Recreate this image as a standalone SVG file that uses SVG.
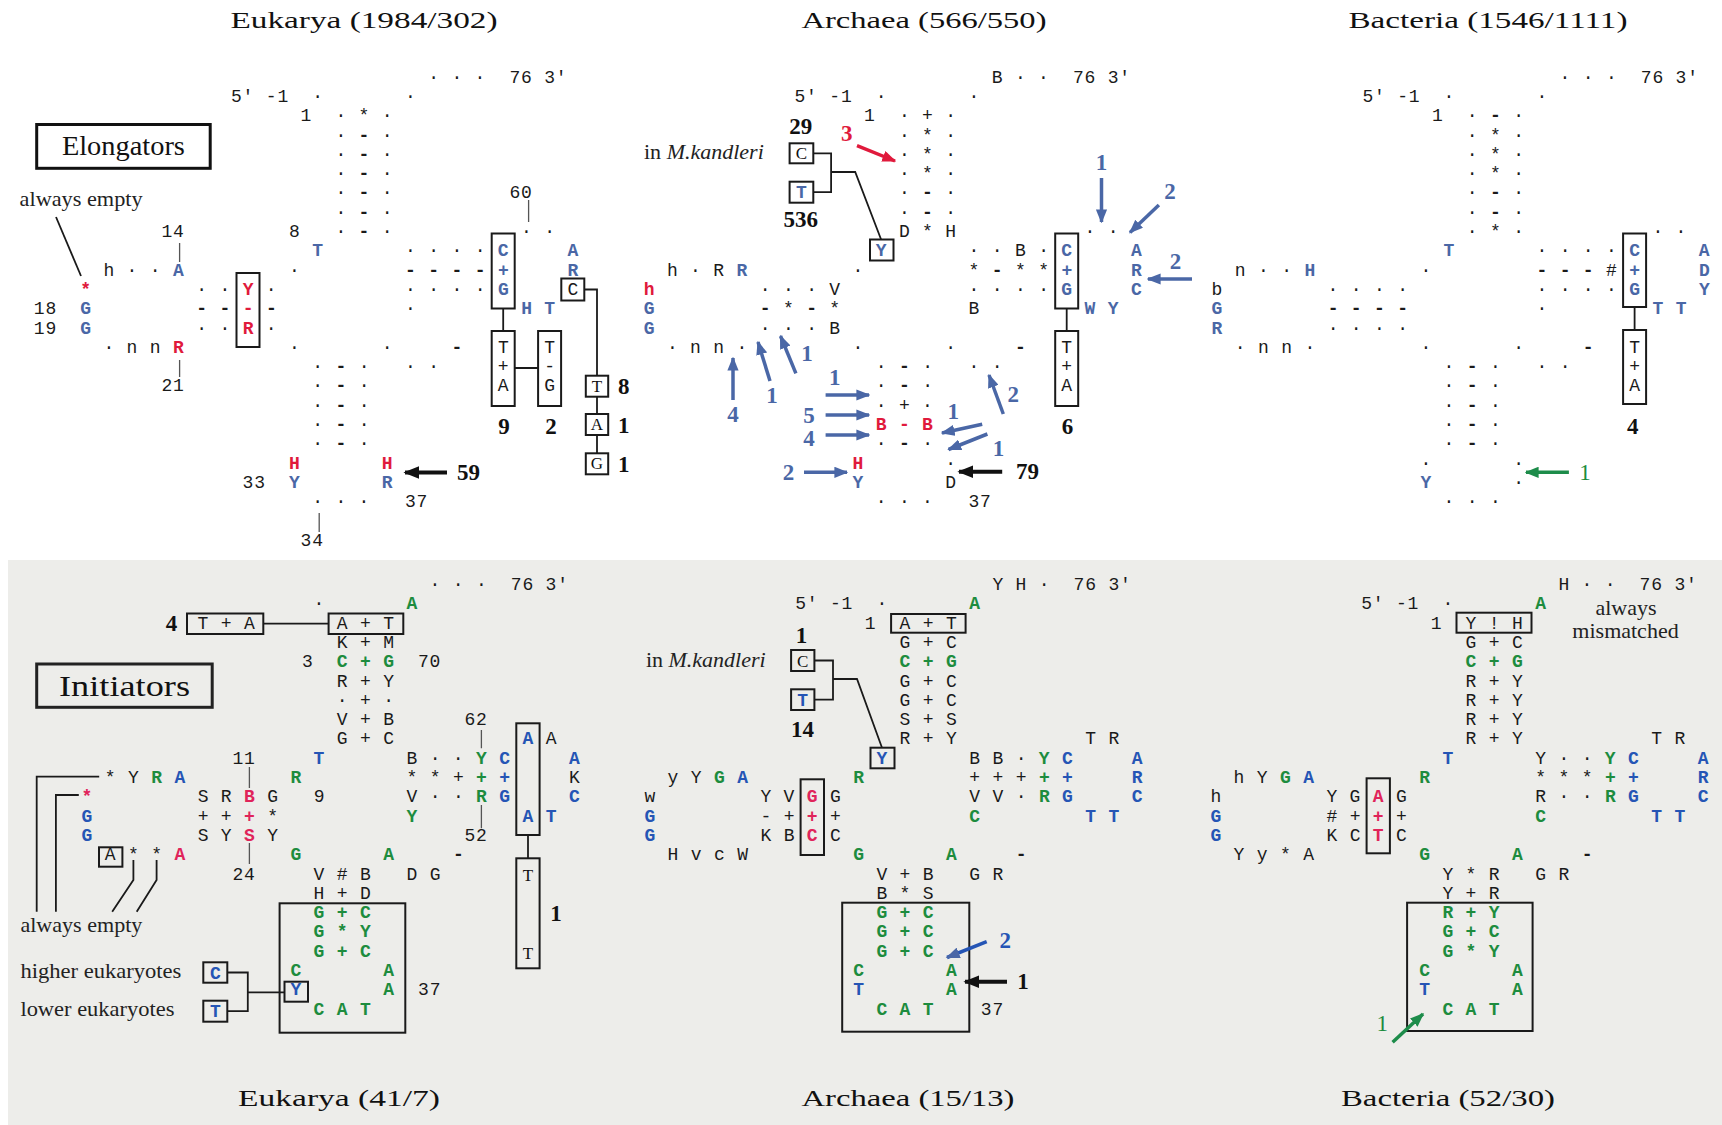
<svg xmlns="http://www.w3.org/2000/svg" width="1722" height="1125" viewBox="0 0 1722 1125">
<style>
.g text{font-family:'Liberation Mono','DejaVu Sans Mono',monospace;font-size:18px;letter-spacing:0.8px;fill:#1a1a1a;white-space:pre}
.b{fill:#4a67a6;font-weight:bold}
.r{fill:#e01a3c;font-weight:bold}
.k{font-weight:bold}
.bot .b{fill:#2555b5}
.bot .r{fill:#e0245a}
.n{fill:#1d8c3e;font-weight:bold}
.ttl{font-family:'Liberation Serif','Times New Roman',serif;font-size:24px;fill:#111;text-anchor:middle}
.lbl{font-family:'Liberation Serif','Times New Roman',serif;font-size:22px;fill:#222}
.num{font-family:'Liberation Serif','Times New Roman',serif;font-size:23px;font-weight:bold;fill:#111;text-anchor:middle}
.num.bn{fill:#4a67a6}
.num.rn{fill:#e01a3c}
.num.gn{fill:#1d8c3e;font-weight:normal}
.sl{font-family:'Liberation Serif','Times New Roman',serif;font-size:17px;fill:#111;text-anchor:middle}
.bl{font-family:'Liberation Mono',monospace;font-size:18px;font-weight:bold;fill:#2555b5;text-anchor:middle}
.box{fill:none;stroke:#1a1a1a;stroke-width:2}
.ln{fill:none;stroke:#1a1a1a;stroke-width:1.8}
.tick{fill:none;stroke:#555;stroke-width:1.3}
.ab{fill:none;stroke:#4a67a6;stroke-width:3.5;marker-end:url(#mb)}
.ak{fill:none;stroke:#111;stroke-width:4;marker-end:url(#mk)}
.ar{fill:none;stroke:#e01a3c;stroke-width:3.5;marker-end:url(#mr)}
.ag{fill:none;stroke:#1d8c4a;stroke-width:3.5;marker-end:url(#mg)}
</style>
<defs>
<marker id="mb" viewBox="0 0 10 8" refX="9" refY="4" markerWidth="4" markerHeight="3.2" orient="auto"><path d="M0,0 L10,4 L0,8 z" fill="#4a67a6"/></marker>
<marker id="mk" viewBox="0 0 10 8" refX="9" refY="4" markerWidth="4" markerHeight="3.2" orient="auto"><path d="M0,0 L10,4 L0,8 z" fill="#111"/></marker>
<marker id="mr" viewBox="0 0 10 8" refX="9" refY="4" markerWidth="4" markerHeight="3.2" orient="auto"><path d="M0,0 L10,4 L0,8 z" fill="#e01a3c"/></marker>
<marker id="mg" viewBox="0 0 10 8" refX="9" refY="4" markerWidth="4" markerHeight="3.2" orient="auto"><path d="M0,0 L10,4 L0,8 z" fill="#1d8c4a"/></marker>
</defs>
<rect x="0" y="0" width="1722" height="1125" fill="#ffffff"/>
<rect x="8" y="560" width="1714" height="565" fill="#ededea"/>

<g id="titles">
<text class="ttl" x="364" y="28" textLength="267" lengthAdjust="spacingAndGlyphs">Eukarya (1984/302)</text>
<text class="ttl" x="924" y="28" textLength="245" lengthAdjust="spacingAndGlyphs">Archaea (566/550)</text>
<text class="ttl" x="1488" y="28" textLength="279" lengthAdjust="spacingAndGlyphs">Bacteria (1546/1111)</text>
<text class="ttl" x="339" y="1106" textLength="202" lengthAdjust="spacingAndGlyphs">Eukarya (41/7)</text>
<text class="ttl" x="908" y="1106" textLength="213" lengthAdjust="spacingAndGlyphs">Archaea (15/13)</text>
<text class="ttl" x="1448" y="1106" textLength="214" lengthAdjust="spacingAndGlyphs">Bacteria (52/30)</text>
</g>

<g id="label-elongators">
<rect x="36.7" y="124.5" width="173.5" height="43.8" fill="#fff" stroke="#111" stroke-width="3"/>
<text x="123.4" y="155" font-family="'Liberation Serif',serif" font-size="27" text-anchor="middle" textLength="123" lengthAdjust="spacingAndGlyphs" fill="#111">Elongators</text>
</g>
<g id="label-initiators">
<rect x="36.7" y="664" width="175.5" height="43.3" fill="none" stroke="#222" stroke-width="3"/>
<text x="124.5" y="696" font-family="'Liberation Serif',serif" font-size="29" text-anchor="middle" textLength="131" lengthAdjust="spacingAndGlyphs" fill="#111">Initiators</text>
</g>

<g id="top-eukarya">
<g class="g" transform="translate(80.2,82.7)">
<text xml:space="preserve" x="348" y="0">· · ·  76 3'</text>
<text xml:space="preserve" x="150.8" y="19.3">5' -1  ·       ·</text>
<text xml:space="preserve" x="220.4" y="38.6">1  · * ·</text>
<text xml:space="preserve" x="255.2" y="57.9">· <tspan class="k">-</tspan> ·</text>
<text xml:space="preserve" x="255.2" y="77.2">· <tspan class="k">-</tspan> ·</text>
<text xml:space="preserve" x="255.2" y="96.5">· <tspan class="k">-</tspan> ·</text>
<text xml:space="preserve" x="255.2" y="115.8">· <tspan class="k">-</tspan> ·          60</text>
<text xml:space="preserve" x="255.2" y="135.1">· <tspan class="k">-</tspan> ·</text>
<text xml:space="preserve" x="81.2" y="154.4">14         8   · <tspan class="k">-</tspan> ·           · ·</text>
<text xml:space="preserve" x="232" y="173.7"><tspan class="b">T</tspan>       · · · · <tspan class="b">C</tspan>     <tspan class="b">A</tspan></text>
<text xml:space="preserve" x="23.2" y="193">h · · <tspan class="b">A</tspan>         ·         <tspan class="k">- - - -</tspan> <tspan class="b">+</tspan>     <tspan class="b">R</tspan></text>
<text xml:space="preserve" x="0" y="212.3"><tspan class="r">*</tspan>         · · <tspan class="r">Y</tspan> ·           · · · · <tspan class="b">G</tspan>     C</text>
<text xml:space="preserve" x="-46.4" y="231.6">18  <tspan class="b">G</tspan>         <tspan class="k">- - <tspan class="r">-</tspan> -</tspan>           ·         <tspan class="b">H</tspan> <tspan class="b">T</tspan></text>
<text xml:space="preserve" x="-46.4" y="250.9">19  <tspan class="b">G</tspan>         · · <tspan class="r">R</tspan> ·</text>
<text xml:space="preserve" x="23.2" y="270.2">· n n <tspan class="r">R</tspan>         ·       ·     <tspan class="k">-</tspan>   T   T</text>
<text xml:space="preserve" x="232" y="289.5">· <tspan class="k">-</tspan> ·   · ·     +   -</text>
<text xml:space="preserve" x="81.2" y="308.8">21           · <tspan class="k">-</tspan> ·           A   G</text>
<text xml:space="preserve" x="232" y="328.1">· <tspan class="k">-</tspan> ·</text>
<text xml:space="preserve" x="232" y="347.4">· <tspan class="k">-</tspan> ·</text>
<text xml:space="preserve" x="232" y="366.7">· <tspan class="k">-</tspan> ·</text>
<text xml:space="preserve" x="208.8" y="386"><tspan class="r">H</tspan>       <tspan class="r">H</tspan></text>
<text xml:space="preserve" x="162.4" y="405.3">33  <tspan class="b">Y</tspan>       <tspan class="b">R</tspan></text>
<text xml:space="preserve" x="232" y="424.6">· · ·   37</text>
<text xml:space="preserve" x="220.4" y="463.2">34</text>
</g>
<rect class="box" x="236.5" y="273" width="23" height="74"/>
<rect class="box" x="491.7" y="233.5" width="23" height="75"/>
<rect class="box" x="491.7" y="331" width="23" height="75"/>
<rect class="box" x="538.1" y="331" width="23" height="75"/>
<rect class="box" x="561.3" y="278.5" width="23" height="22"/>
<rect class="box" x="585.8" y="375.7" width="22.4" height="21"/>
<rect class="box" x="585.8" y="414" width="22.4" height="21"/>
<rect class="box" x="585.8" y="453.3" width="22.4" height="21"/>
<text class="sl" x="597" y="391.5">T</text>
<text class="sl" x="597" y="430">A</text>
<text class="sl" x="597" y="469.3">G</text>
<text class="num" x="623.7" y="394">8</text>
<text class="num" x="623.7" y="433">1</text>
<text class="num" x="623.7" y="472">1</text>
<text class="num" x="504" y="434">9</text>
<text class="num" x="551" y="434">2</text>
<text class="num" x="468.6" y="480">59</text>
<text class="lbl" x="19.6" y="206" textLength="123" lengthAdjust="spacingAndGlyphs">always empty</text>
</g>

<g id="top-archaea">
<g class="g" transform="translate(643.7,82.7)">
<text xml:space="preserve" x="348" y="0">B · ·  76 3'</text>
<text xml:space="preserve" x="150.8" y="19.3">5' -1  ·       ·</text>
<text xml:space="preserve" x="220.4" y="38.6">1  · + ·</text>
<text xml:space="preserve" x="255.2" y="57.9">· * ·</text>
<text xml:space="preserve" x="255.2" y="77.2">· * ·</text>
<text xml:space="preserve" x="255.2" y="96.5">· * ·</text>
<text xml:space="preserve" x="255.2" y="115.8">· <tspan class="k">-</tspan> ·</text>
<text xml:space="preserve" x="255.2" y="135.1">· <tspan class="k">-</tspan> ·</text>
<text xml:space="preserve" x="255.2" y="154.4">D * H           · ·</text>
<text xml:space="preserve" x="232" y="173.7"><tspan class="b">Y</tspan>       · · B · <tspan class="b">C</tspan>     <tspan class="b">A</tspan></text>
<text xml:space="preserve" x="23.2" y="193">h · R <tspan class="b">R</tspan>         ·         * <tspan class="k">-</tspan> * * <tspan class="b">+</tspan>     <tspan class="b">R</tspan></text>
<text xml:space="preserve" x="0" y="212.3"><tspan class="r">h</tspan>         · · · V           · · · · <tspan class="b">G</tspan>     <tspan class="b">C</tspan></text>
<text xml:space="preserve" x="0" y="231.6"><tspan class="b">G</tspan>         <tspan class="k">-</tspan> * <tspan class="k">-</tspan> *           B         <tspan class="b">W</tspan> <tspan class="b">Y</tspan></text>
<text xml:space="preserve" x="0" y="250.9"><tspan class="b">G</tspan>         · · · B</text>
<text xml:space="preserve" x="23.2" y="270.2">· n n ·</text>
<text xml:space="preserve" x="208.8" y="270.2">·       ·     <tspan class="k">-</tspan>   T</text>
<text xml:space="preserve" x="232" y="289.5">· <tspan class="k">-</tspan> ·   · ·</text>
<text xml:space="preserve" x="417.6" y="289.5">+</text>
<text xml:space="preserve" x="232" y="308.8">· <tspan class="k">-</tspan> ·</text>
<text xml:space="preserve" x="417.6" y="308.8">A</text>
<text xml:space="preserve" x="232" y="328.1">· + ·</text>
<text xml:space="preserve" x="232" y="347.4"><tspan class="r">B - B</tspan></text>
<text xml:space="preserve" x="232" y="366.7">· <tspan class="k">-</tspan> ·</text>
<text xml:space="preserve" x="208.8" y="386"><tspan class="r">H</tspan>       ·</text>
<text xml:space="preserve" x="208.8" y="405.3"><tspan class="b">Y</tspan>       D</text>
<text xml:space="preserve" x="232" y="424.6">· · ·   37</text>
</g>
<rect class="box" x="1055.2" y="233.5" width="23" height="75"/>
<rect class="box" x="1055.2" y="331" width="23" height="75"/>
<rect class="box" x="870" y="239.5" width="23.5" height="21"/>
<rect class="box" x="789.6" y="143.3" width="23.7" height="20"/>
<rect class="box" x="789.6" y="181.7" width="23.7" height="21"/>
<text class="sl" x="801.5" y="159">C</text>
<text class="bl" x="801.5" y="198" style="fill:#4a67a6">T</text>
<text class="lbl" x="644" y="159">in <tspan font-style="italic">M.kandleri</tspan></text>
<text class="num" x="800.7" y="134">29</text>
<text class="num" x="800.7" y="227">536</text>
<text class="num rn" x="846.7" y="141">3</text>
<text class="num" x="1067.4" y="434">6</text>
<text class="num" x="1027.4" y="479">79</text>
<text class="num bn" x="1101.5" y="170">1</text>
<text class="num bn" x="1170" y="199">2</text>
<text class="num bn" x="1175.6" y="269">2</text>
<text class="num bn" x="733" y="422">4</text>
<text class="num bn" x="771.9" y="403">1</text>
<text class="num bn" x="807" y="361">1</text>
<text class="num bn" x="834.8" y="385">1</text>
<text class="num bn" x="808.9" y="423">5</text>
<text class="num bn" x="808.9" y="446">4</text>
<text class="num bn" x="788.5" y="480">2</text>
<text class="num bn" x="953.3" y="419">1</text>
<text class="num bn" x="998.5" y="456">1</text>
<text class="num bn" x="1013.3" y="402">2</text>
</g>

<g id="top-bacteria">
<g class="g" transform="translate(1211.6,82.7)">
<text xml:space="preserve" x="348" y="0">· · ·  76 3'</text>
<text xml:space="preserve" x="150.8" y="19.3">5' -1  ·       ·</text>
<text xml:space="preserve" x="220.4" y="38.6">1  · <tspan class="k">-</tspan> ·</text>
<text xml:space="preserve" x="255.2" y="57.9">· * ·</text>
<text xml:space="preserve" x="255.2" y="77.2">· * ·</text>
<text xml:space="preserve" x="255.2" y="96.5">· * ·</text>
<text xml:space="preserve" x="255.2" y="115.8">· <tspan class="k">-</tspan> ·</text>
<text xml:space="preserve" x="255.2" y="135.1">· <tspan class="k">-</tspan> ·</text>
<text xml:space="preserve" x="255.2" y="154.4">· * ·           · ·</text>
<text xml:space="preserve" x="232" y="173.7"><tspan class="b">T</tspan>       · · · · <tspan class="b">C</tspan>     <tspan class="b">A</tspan></text>
<text xml:space="preserve" x="23.2" y="193">n · · <tspan class="b">H</tspan>         ·         <tspan class="k">- - -</tspan> # <tspan class="b">+</tspan>     <tspan class="b">D</tspan></text>
<text xml:space="preserve" x="0" y="212.3">b         · · · ·           · · · · <tspan class="b">G</tspan>     <tspan class="b">Y</tspan></text>
<text xml:space="preserve" x="0" y="231.6"><tspan class="b">G</tspan>         <tspan class="k">- - - -</tspan>           ·         <tspan class="b">T</tspan> <tspan class="b">T</tspan></text>
<text xml:space="preserve" x="0" y="250.9"><tspan class="b">R</tspan>         · · · ·</text>
<text xml:space="preserve" x="23.2" y="270.2">· n n ·         ·       ·     <tspan class="k">-</tspan>   T</text>
<text xml:space="preserve" x="232" y="289.5">· <tspan class="k">-</tspan> ·   · ·     +</text>
<text xml:space="preserve" x="232" y="308.8">· <tspan class="k">-</tspan> ·           A</text>
<text xml:space="preserve" x="232" y="328.1">· <tspan class="k">-</tspan> ·</text>
<text xml:space="preserve" x="232" y="347.4">· <tspan class="k">-</tspan> ·</text>
<text xml:space="preserve" x="232" y="366.7">· <tspan class="k">-</tspan> ·</text>
<text xml:space="preserve" x="208.8" y="386">·       ·</text>
<text xml:space="preserve" x="208.8" y="405.3"><tspan class="b">Y</tspan>       ·</text>
<text xml:space="preserve" x="232" y="424.6">· · ·</text>
</g>
<rect class="box" x="1623.1" y="233.5" width="23" height="73.5"/>
<rect class="box" x="1623.1" y="330" width="23" height="74"/>
<text class="num" x="1632.8" y="434">4</text>
<text class="num gn" x="1585.1" y="480">1</text>
</g>

<g id="bottom-eukarya">
<g class="g bot" transform="translate(81.6,590)">
<text xml:space="preserve" x="348" y="0">· · ·  76 3'</text>
<text xml:space="preserve" x="232" y="19.3">·       <tspan class="n">A</tspan></text>
<text xml:space="preserve" x="116" y="38.6">T + A       A + T</text>
<text xml:space="preserve" x="255.2" y="57.9">K + M</text>
<text xml:space="preserve" x="220.4" y="77.2">3  <tspan class="n">C + G</tspan>  70</text>
<text xml:space="preserve" x="255.2" y="96.5">R + Y</text>
<text xml:space="preserve" x="255.2" y="115.8">· + ·</text>
<text xml:space="preserve" x="255.2" y="135.1">V + B      62</text>
<text xml:space="preserve" x="255.2" y="154.4">G + C           <tspan class="b">A</tspan> A</text>
<text xml:space="preserve" x="150.8" y="173.7">11     <tspan class="b">T</tspan>       B · · <tspan class="n">Y</tspan> <tspan class="b">C</tspan>     <tspan class="b">A</tspan></text>
<text xml:space="preserve" x="23.2" y="193">* Y <tspan class="n">R</tspan> <tspan class="b">A</tspan>         <tspan class="n">R</tspan>         * * + <tspan class="n">+</tspan> <tspan class="b">+</tspan>     K</text>
<text xml:space="preserve" x="0" y="212.3"><tspan class="r">*</tspan>         S R <tspan class="r">B</tspan> G   9       V · · <tspan class="n">R</tspan> <tspan class="b">G</tspan>     <tspan class="b">C</tspan></text>
<text xml:space="preserve" x="0" y="231.6"><tspan class="b">G</tspan>         + + <tspan class="r">+</tspan> *           <tspan class="n">Y</tspan>         <tspan class="b">A</tspan> <tspan class="b">T</tspan></text>
<text xml:space="preserve" x="0" y="250.9"><tspan class="b">G</tspan>         S Y <tspan class="r">S</tspan> Y                52</text>
<text xml:space="preserve" x="23.2" y="270.2">A * * <tspan class="r">A</tspan>         <tspan class="n">G</tspan>       <tspan class="n">A</tspan>     <tspan class="k">-</tspan></text>
<text xml:space="preserve" x="150.8" y="289.5">24     V # B   D G</text>
<text xml:space="preserve" x="232" y="308.8">H + D</text>
<text xml:space="preserve" x="232" y="328.1"><tspan class="n">G + C</tspan></text>
<text xml:space="preserve" x="232" y="347.4"><tspan class="n">G * Y</tspan></text>
<text xml:space="preserve" x="232" y="366.7"><tspan class="n">G + C</tspan></text>
<text xml:space="preserve" x="208.8" y="386"><tspan class="n">C       A</tspan></text>
<text xml:space="preserve" x="208.8" y="405.3"><tspan class="b">Y</tspan>       <tspan class="n">A</tspan>  37</text>
<text xml:space="preserve" x="232" y="424.6"><tspan class="n">C A T</tspan></text>
</g>
<rect class="box" x="187" y="613.5" width="76.3" height="20.5"/>
<rect class="box" x="328.6" y="613.5" width="74.7" height="20.5"/>
<rect class="box" x="516.3" y="723.3" width="23.3" height="111.7"/>
<rect class="box" x="516.3" y="858.3" width="23.3" height="110"/>
<rect class="box" x="99" y="847.3" width="23.4" height="19.4"/>
<rect class="box" x="284.5" y="981.7" width="23.5" height="20"/>
<rect class="box" x="279.6" y="903.3" width="125.7" height="129.4"/>
<rect class="box" x="203.3" y="962.3" width="24" height="20.4"/>
<rect class="box" x="203.3" y="1000.7" width="24" height="21"/>
<text class="bl" x="215.3" y="978.5">C</text>
<text class="bl" x="215.3" y="1017">T</text>
<text class="sl" x="528" y="881">T</text>
<text class="sl" x="528" y="959">T</text>
<text class="num" x="171.4" y="630.5">4</text>
<text class="num" x="555.9" y="920.5">1</text>
<text class="lbl" x="20.4" y="932" textLength="122" lengthAdjust="spacingAndGlyphs">always empty</text>
<text class="lbl" x="20.4" y="977.5" textLength="161" lengthAdjust="spacingAndGlyphs">higher eukaryotes</text>
<text class="lbl" x="20.4" y="1016" textLength="154" lengthAdjust="spacingAndGlyphs">lower eukaryotes</text>
</g>

<g id="bottom-archaea">
<g class="g bot" transform="translate(644.4,590)">
<text xml:space="preserve" x="348" y="0">Y H ·  76 3'</text>
<text xml:space="preserve" x="150.8" y="19.3">5' -1  ·       <tspan class="n">A</tspan></text>
<text xml:space="preserve" x="220.4" y="38.6">1  A + T</text>
<text xml:space="preserve" x="255.2" y="57.9">G + C</text>
<text xml:space="preserve" x="255.2" y="77.2"><tspan class="n">C + G</tspan></text>
<text xml:space="preserve" x="255.2" y="96.5">G + C</text>
<text xml:space="preserve" x="255.2" y="115.8">G + C</text>
<text xml:space="preserve" x="255.2" y="135.1">S + S</text>
<text xml:space="preserve" x="255.2" y="154.4">R + Y           T R</text>
<text xml:space="preserve" x="232" y="173.7"><tspan class="b">Y</tspan>       B B · <tspan class="n">Y</tspan> <tspan class="b">C</tspan>     <tspan class="b">A</tspan></text>
<text xml:space="preserve" x="23.2" y="193">y Y <tspan class="n">G</tspan> <tspan class="b">A</tspan>         <tspan class="n">R</tspan>         + + + <tspan class="n">+</tspan> <tspan class="b">+</tspan>     <tspan class="b">R</tspan></text>
<text xml:space="preserve" x="0" y="212.3">w         Y V <tspan class="r">G</tspan> G           V V · <tspan class="n">R</tspan> <tspan class="b">G</tspan>     <tspan class="b">C</tspan></text>
<text xml:space="preserve" x="0" y="231.6"><tspan class="b">G</tspan>         - + <tspan class="r">+</tspan> +           <tspan class="n">C</tspan>         <tspan class="b">T</tspan> <tspan class="b">T</tspan></text>
<text xml:space="preserve" x="0" y="250.9"><tspan class="b">G</tspan>         K B <tspan class="r">C</tspan> C</text>
<text xml:space="preserve" x="23.2" y="270.2">H v c W         <tspan class="n">G</tspan>       <tspan class="n">A</tspan>     <tspan class="k">-</tspan></text>
<text xml:space="preserve" x="232" y="289.5">V + B   G R</text>
<text xml:space="preserve" x="232" y="308.8">B * S</text>
<text xml:space="preserve" x="232" y="328.1"><tspan class="n">G + C</tspan></text>
<text xml:space="preserve" x="232" y="347.4"><tspan class="n">G + C</tspan></text>
<text xml:space="preserve" x="232" y="366.7"><tspan class="n">G + C</tspan></text>
<text xml:space="preserve" x="208.8" y="386"><tspan class="n">C       A</tspan></text>
<text xml:space="preserve" x="208.8" y="405.3"><tspan class="b">T</tspan>       <tspan class="n">A</tspan></text>
<text xml:space="preserve" x="232" y="424.6"><tspan class="n">C A T</tspan>    37</text>
</g>
<rect class="box" x="891.1" y="614" width="74.5" height="18.7"/>
<rect class="box" x="800.6" y="779.3" width="23.4" height="75.7"/>
<rect class="box" x="870.5" y="747.7" width="24" height="20.6"/>
<rect class="box" x="842.2" y="902.7" width="127.1" height="129"/>
<rect class="box" x="791.1" y="650" width="23.3" height="21"/>
<rect class="box" x="791.1" y="689.3" width="23.3" height="20.7"/>
<text class="sl" x="802.7" y="666.5">C</text>
<text class="bl" x="802.7" y="705.5">T</text>
<text class="lbl" x="645.9" y="667">in <tspan font-style="italic">M.kandleri</tspan></text>
<text class="num" x="801.5" y="643">1</text>
<text class="num" x="802.6" y="737">14</text>
<text class="num bn" x="1005.2" y="948" style="fill:#2555b5">2</text>
<text class="num" x="1023" y="989">1</text>
</g>

<g id="bottom-bacteria">
<g class="g bot" transform="translate(1210.4,590)">
<text xml:space="preserve" x="348" y="0">H · ·  76 3'</text>
<text xml:space="preserve" x="150.8" y="19.3">5' -1  ·       <tspan class="n">A</tspan></text>
<text xml:space="preserve" x="220.4" y="38.6">1  Y ! H</text>
<text xml:space="preserve" x="255.2" y="57.9">G + C</text>
<text xml:space="preserve" x="255.2" y="77.2"><tspan class="n">C + G</tspan></text>
<text xml:space="preserve" x="255.2" y="96.5">R + Y</text>
<text xml:space="preserve" x="255.2" y="115.8">R + Y</text>
<text xml:space="preserve" x="255.2" y="135.1">R + Y</text>
<text xml:space="preserve" x="255.2" y="154.4">R + Y           T R</text>
<text xml:space="preserve" x="232" y="173.7"><tspan class="b">T</tspan>       Y · · <tspan class="n">Y</tspan> <tspan class="b">C</tspan>     <tspan class="b">A</tspan></text>
<text xml:space="preserve" x="23.2" y="193">h Y <tspan class="n">G</tspan> <tspan class="b">A</tspan>         <tspan class="n">R</tspan>         * * * <tspan class="n">+</tspan> <tspan class="b">+</tspan>     <tspan class="b">R</tspan></text>
<text xml:space="preserve" x="0" y="212.3">h         Y G <tspan class="r">A</tspan> G           R · · <tspan class="n">R</tspan> <tspan class="b">G</tspan>     <tspan class="b">C</tspan></text>
<text xml:space="preserve" x="0" y="231.6"><tspan class="b">G</tspan>         # + <tspan class="r">+</tspan> +           <tspan class="n">C</tspan>         <tspan class="b">T</tspan> <tspan class="b">T</tspan></text>
<text xml:space="preserve" x="0" y="250.9"><tspan class="b">G</tspan>         K C <tspan class="r">T</tspan> C</text>
<text xml:space="preserve" x="23.2" y="270.2">Y y * A         <tspan class="n">G</tspan>       <tspan class="n">A</tspan>     <tspan class="k">-</tspan></text>
<text xml:space="preserve" x="232" y="289.5">Y * R   G R</text>
<text xml:space="preserve" x="232" y="308.8">Y + R</text>
<text xml:space="preserve" x="232" y="328.1"><tspan class="n">R + Y</tspan></text>
<text xml:space="preserve" x="232" y="347.4"><tspan class="n">G + C</tspan></text>
<text xml:space="preserve" x="232" y="366.7"><tspan class="n">G * Y</tspan></text>
<text xml:space="preserve" x="208.8" y="386"><tspan class="n">C       A</tspan></text>
<text xml:space="preserve" x="208.8" y="405.3"><tspan class="b">T</tspan>       <tspan class="n">A</tspan></text>
<text xml:space="preserve" x="232" y="424.6"><tspan class="n">C A T</tspan></text>
</g>
<rect class="box" x="1456.5" y="612.7" width="75" height="20"/>
<rect class="box" x="1366.6" y="778.3" width="23.3" height="75"/>
<rect class="box" x="1407.1" y="902.7" width="125.5" height="128.3"/>
<text class="lbl" x="1626" y="615" text-anchor="middle">always</text>
<text class="lbl" x="1625.5" y="638" text-anchor="middle">mismatched</text>
<text class="num gn" x="1382.2" y="1031">1</text>
</g>

<g id="connectors">
<path class="ln" d="M56 217 L81 276"/>
<path class="tick" d="M179.6 243 V262 M179.6 360 V377 M319.2 513 V532 M528.6 200 V222"/>
<path class="ln" d="M503.2 308.5 V331 M514.7 368 H538.1 M584.3 289.5 H597 V375.7 M597 396.7 V414 M597 435 V453.3"/>
<path class="ak" d="M447 472.5 L405 472.5"/>
<path class="ln" d="M1066.7 308.5 V331"/>
<path class="ln" d="M813.3 153.3 H831.1 V192.2 H813.3 M831.1 172 H855.2 L881.1 239.5"/>
<path class="ar" d="M857 145.7 L895 161"/>
<path class="ab" d="M1101.5 178 L1101.5 222"/>
<path class="ab" d="M1158.9 205 L1130 232.5"/>
<path class="ab" d="M1192 279 L1148 279"/>
<path class="ab" d="M733 400 L733 358"/>
<path class="ab" d="M770 381 L758 342"/>
<path class="ab" d="M795.9 373.3 L780.5 336"/>
<path class="ab" d="M825.6 395 L869 395"/>
<path class="ab" d="M825.6 415 L869 415"/>
<path class="ab" d="M825.6 435 L869 435"/>
<path class="ab" d="M804 472.3 L847 472.3"/>
<path class="ab" d="M982.2 424.3 L942 433"/>
<path class="ab" d="M987.4 434 L948.5 449.5"/>
<path class="ab" d="M1003.3 414 L989 375"/>
<path class="ak" d="M1002.2 471.7 L959 471.7"/>
<path class="ln" d="M1634.6 307 V330"/>
<path class="ag" d="M1568.9 472.3 L1526 472.3"/>
<path class="ln" d="M263.3 623.7 H328.6 M528 835 V858.3"/>
<path class="ln" d="M99.2 776.7 H36.7 V911.7 M78.8 795 H55.9 V911.7"/>
<path class="ln" d="M133.4 860 V880 L112.2 911.7 M156.6 860 V880 L136.7 911.7"/>
<path class="tick" d="M249.4 767 V788 M249.4 843 V864 M481.4 730 V748.3 M481.4 805 V828.3"/>
<path class="ln" d="M227.3 972.5 H247.8 V1011.2 H227.3 M247.8 992.3 H284.5"/>
<path class="ln" d="M814.4 660.5 H833 V699.6 H814.4 M833 679 H857 L882 747.7"/>
<path class="ab" style="stroke:#2555b5" d="M986.7 941.7 L947 957.5"/>
<path class="ak" d="M1007 981.7 L965 981.7"/>
<path class="ag" d="M1392.6 1042.3 L1423 1014"/>
</g>
</svg>
